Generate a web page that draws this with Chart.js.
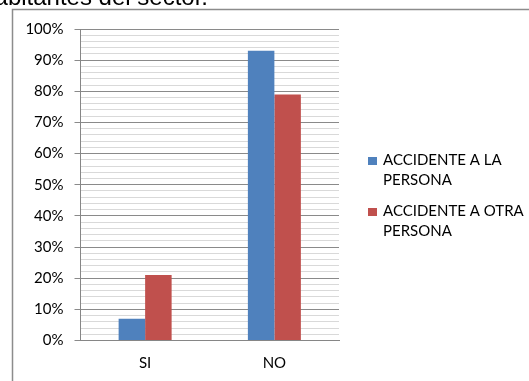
<!DOCTYPE html>
<html>
<head>
<meta charset="utf-8">
<script src="https://cdn.jsdelivr.net/npm/chart.js@4.4.1/dist/chart.umd.min.js"></script>
<style>
  html, body { margin: 0; padding: 0; background: #fff; }
  #wrap { width: 529px; height: 381px; position: relative; }
</style>
</head>
<body>
<div id="wrap"><canvas id="myChart" width="529" height="381"></canvas></div>
<script>
// datos
var categorias = ['SI', 'NO'];
var series = ['ACCIDENTE A LA PERSONA', 'ACCIDENTE A OTRA PERSONA'];
var leyenda = [['ACCIDENTE A LA', 'PERSONA'], ['ACCIDENTE A OTRA', 'PERSONA']];
var valoresPersona = [7, 93];
var valoresOtra = [21, 79];
var colores = ['#4F81BD', '#C0504D'];

var fuente = 'Lato, sans-serif';

// marco, texto de arriba y leyenda
var extras = {
  id: 'extras',
  beforeDraw: function (chart) {
    var ctx = chart.ctx;
    ctx.save();
    ctx.fillStyle = '#fff';
    ctx.fillRect(0, 0, chart.width, chart.height);
    ctx.fillStyle = '#000';
    ctx.font = '24px "Liberation Sans", Arial, sans-serif';
    ctx.textAlign = 'right';
    ctx.textBaseline = 'alphabetic';
    ctx.fillText('habitantes del sector.', 208, 5);
    ctx.strokeStyle = '#8c8c8c';
    ctx.lineWidth = 1.5;
    ctx.strokeRect(12.5, 9.5, 540, 400);
    ctx.restore();
  },
  afterDraw: function (chart) {
    var ctx = chart.ctx;
    ctx.save();
    ctx.font = '15px ' + fuente;
    ctx.textAlign = 'left';
    ctx.textBaseline = 'alphabetic';
    var y0 = [165, 216];
    for (var i = 0; i < leyenda.length; i++) {
      ctx.fillStyle = colores[i];
      ctx.fillRect(368, y0[i] - 8, 9, 8);
      ctx.fillStyle = '#000';
      ctx.fillText(leyenda[i][0], 383, y0[i]);
      ctx.fillText(leyenda[i][1], 383, y0[i] + 20);
    }
    ctx.restore();
  }
};

var ctx = document.getElementById('myChart').getContext('2d');
var config = {
  type: 'bar',
  data: {
    labels: categorias,
    datasets: [
      { label: series[0], data: valoresPersona, backgroundColor: colores[0] },
      { label: series[1], data: valoresOtra, backgroundColor: colores[1] }
    ]
  },
  options: {
    responsive: false,
    animation: false,
    layout: { padding: { top: 29, right: 190, bottom: 0, left: 0 } },
    datasets: {
      bar: { categoryPercentage: 0.41, barPercentage: 1.0 }
    },
    plugins: {
      legend: { display: false },
      tooltip: { enabled: false }
    },
    scales: {
      x: {
        grid: { display: false, drawTicks: false },
        border: { color: '#868686', width: 1 },
        ticks: { color: '#000', font: { family: fuente, size: 15 }, padding: 14 },
        afterFit: function (s) { s.height = 40.5; }
      },
      y: {
        min: 0,
        max: 100,
        ticks: {
          stepSize: 2,
          autoSkip: false,
          color: '#000',
          padding: 11,
          font: { family: fuente, size: 15 },
          callback: function (v) { return v % 10 === 0 ? v + '%' : ''; }
        },
        grid: {
          tickLength: 6,
          color: function (c) { return c.tick && c.tick.value % 10 === 0 ? '#8a8a8a' : '#d9d9d9'; },
          tickColor: function (c) { return c.tick && c.tick.value % 10 === 0 ? '#8a8a8a' : 'rgba(0,0,0,0)'; }
        },
        border: { color: '#868686', width: 1 },
        afterFit: function (s) { s.width = 80.5; }
      }
    }
  },
  plugins: [extras]
};

var chart = new Chart(ctx, config);
</script>
</body>
</html>
